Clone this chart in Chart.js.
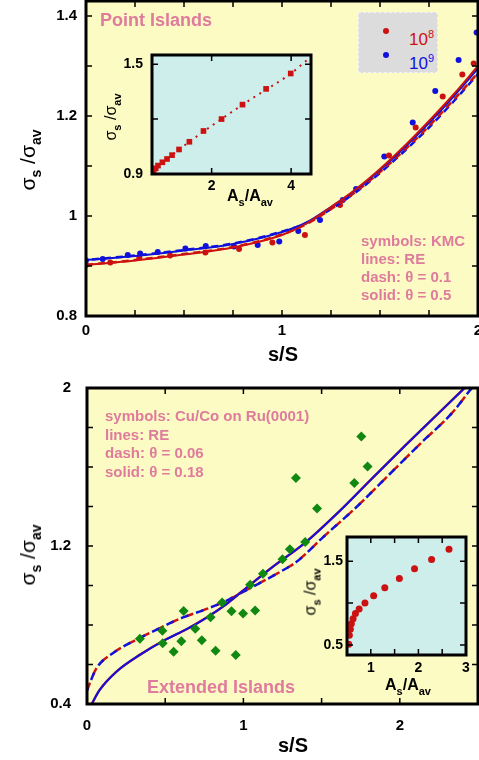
<!DOCTYPE html>
<html lang="en">
<head>
<meta charset="UTF-8">
<title>Island capture zones: sigma_s / sigma_av vs s/S</title>
<script src="https://cdn.jsdelivr.net/npm/chart.js"></script>
<style>
  body { margin: 0; background: #fff; font-family: 'Liberation Sans', Arial, sans-serif; }
  #page { position: relative; width: 479px; height: 760px; overflow: hidden; }
  canvas { position: absolute; }
  .txt { position: absolute; white-space: nowrap; }
  .pink { color: #df7b9d; font-weight: bold; font-size: 15px; line-height: 18px; }
  .big { color: #df7b9d; font-weight: bold; font-size: 18px; line-height: 20px; }
  .xt { position: absolute; transform: translateX(-50%); font-weight: bold; font-size: 20px; white-space: nowrap; }
  .yt { position: absolute; transform: translate(-50%, -50%) rotate(-90deg); font-size: 21px; white-space: nowrap; }
  .yt sub { font-size: 14px; font-weight: bold; vertical-align: -6px; }
  .yt.small { font-size: 16px; }
  .yt.small sub { font-size: 11px; vertical-align: -5px; }
  .at { position: absolute; transform: translateX(-50%); font-weight: bold; font-size: 16px; white-space: nowrap; }
  .at sub { font-size: 11px; vertical-align: -5px; }
  #legend { position: absolute; left: 358px; top: 12px; width: 80px; height: 61px; background: #dcdcdc; border: 1px dashed #f4f4f4; box-sizing: border-box; }
  .ldot { position: absolute; width: 6px; height: 6px; border-radius: 50%; }
  .ltxt { position: absolute; font-size: 17px; line-height: 18px; }
  .ltxt sup { font-size: 11px; vertical-align: 7px; }
</style>
</head>
<body>
<div id="page">
  <canvas id="topChart" width="479" height="380" style="left:0;top:0"></canvas>
  <canvas id="botChart" width="479" height="380" style="left:0;top:380px"></canvas>
  <canvas id="topInset" width="215" height="160" style="left:100px;top:50px"></canvas>
  <canvas id="botInset" width="185" height="150" style="left:290px;top:530px"></canvas>

  <div class="txt big" style="left:100px;top:10px">Point Islands</div>
  <div id="legend">
    <div class="ldot" style="left:24px;top:15px;background:#cc1111"></div>
    <div class="ltxt" style="left:50px;top:12px;color:#cc1111">10<sup>8</sup></div>
    <div class="ldot" style="left:24px;top:39px;background:#1111dd"></div>
    <div class="ltxt" style="left:50px;top:36px;color:#1111dd">10<sup>9</sup></div>
  </div>
  <div class="txt pink" style="left:361px;top:232px">symbols: KMC<br>lines: RE<br>dash: θ = 0.1<br>solid: θ = 0.5</div>
  <div class="xt" style="left:283px;top:343px">s/S</div>
  <div class="yt" style="left:30px;top:160px">σ<sub>s</sub> /σ<sub>av</sub></div>
  <div class="yt small" style="left:112px;top:117px">σ<sub>s</sub> /σ<sub>av</sub></div>
  <div class="at" style="left:250px;top:187px">A<sub>s</sub>/A<sub>av</sub></div>

  <div class="txt pink" style="left:105px;top:407px;line-height:18.5px">symbols: Cu/Co on Ru(0001)<br>lines: RE<br>dash: θ = 0.06<br>solid: θ = 0.18</div>
  <div class="txt big" style="left:147px;top:677px">Extended Islands</div>
  <div class="xt" style="left:293px;top:734px">s/S</div>
  <div class="yt" style="left:30px;top:555px">σ<sub>s</sub> /σ<sub>av</sub></div>
  <div class="yt small" style="left:312px;top:592px">σ<sub>s</sub> /σ<sub>av</sub></div>
  <div class="at" style="left:408px;top:676px">A<sub>s</sub>/A<sub>av</sub></div>
</div>

<script>
// ---- Point islands (top panel) ----
const topCurveX = [0, 0.25, 0.5, 0.75, 1, 1.125, 1.25, 1.375, 1.5, 1.625, 1.75, 1.875, 2];
const topRedSolid = [0.902, 0.911, 0.923, 0.937, 0.962, 0.985, 1.018, 1.053, 1.094, 1.140, 1.190, 1.243, 1.300];
const topRedDash = [0.902, 0.912, 0.924, 0.938, 0.963, 0.984, 1.014, 1.048, 1.088, 1.132, 1.180, 1.232, 1.286];
const topBlueSolid = [0.912, 0.920, 0.931, 0.944, 0.968, 0.987, 1.018, 1.052, 1.092, 1.137, 1.186, 1.239, 1.295];
const topBlueDash = [0.912, 0.921, 0.932, 0.945, 0.969, 0.986, 1.014, 1.047, 1.086, 1.130, 1.177, 1.229, 1.284];

// KMC symbols, 10^8 (red) and 10^9 (blue)
const kmc8X = [0.0, 0.124, 0.272, 0.429, 0.609, 0.781, 0.951, 1.117, 1.296, 1.546, 1.682, 1.82, 1.92, 1.978];
const kmc8Y = [0.902, 0.907, 0.917, 0.921, 0.927, 0.934, 0.947, 0.962, 1.022, 1.121, 1.177, 1.239, 1.283, 1.305];
const kmc9X = [0.0, 0.085, 0.213, 0.276, 0.366, 0.507, 0.611, 0.755, 0.876, 0.986, 1.083, 1.194, 1.31, 1.378, 1.522, 1.667, 1.782, 1.901, 1.993];
const kmc9Y = [0.911, 0.914, 0.922, 0.925, 0.928, 0.935, 0.940, 0.939, 0.942, 0.949, 0.970, 0.992, 1.032, 1.054, 1.119, 1.187, 1.25, 1.312, 1.367];

// inset: sigma_s/sigma_av vs A_s/A_av
const insetTopX = [0.52, 0.543, 0.593, 0.651, 0.762, 0.878, 1.004, 1.18, 1.44, 1.795, 2.25, 2.777, 3.37, 3.99];
const insetTopY = [0.912, 0.922, 0.931, 0.946, 0.964, 0.982, 1.003, 1.034, 1.076, 1.135, 1.20, 1.279, 1.365, 1.449];
const insetFitX = [0.5, 1.0, 2.0, 3.0, 4.0, 4.39];
const insetFitY = [0.91, 1.003, 1.163, 1.31, 1.45, 1.52];

// ---- Extended islands (bottom panel) ----
const botSolidX = [0.03, 0.08, 0.19, 0.34, 0.5, 0.64, 0.76, 0.89, 0.98, 1.18, 1.4, 1.61, 1.82, 2.04, 2.25, 2.44];
const botSolidY = [0.40, 0.47, 0.565, 0.65, 0.725, 0.78, 0.835, 0.905, 0.963, 1.09, 1.22, 1.373, 1.54, 1.713, 1.874, 2.02];
const botDashX = [0, 0.06, 0.17, 0.34, 0.47, 0.61, 0.76, 0.89, 0.98, 1.27, 1.34, 1.51, 1.72, 1.93, 2.14, 2.33, 2.46];
const botDashY = [0.47, 0.58, 0.66, 0.735, 0.786, 0.837, 0.88, 0.922, 0.96, 1.085, 1.12, 1.245, 1.395, 1.56, 1.725, 1.87, 2.0];

// Cu/Co on Ru(0001)
const cuCoX = [0.338, 0.482, 0.484, 0.554, 0.603, 0.618, 0.692, 0.734, 0.790, 0.822, 0.864, 0.924, 0.951, 0.998, 1.075, 1.043, 1.125, 1.250, 1.297, 1.395, 1.471, 1.336, 1.709, 1.794, 1.754];
const cuCoY = [0.730, 0.771, 0.708, 0.664, 0.718, 0.871, 0.781, 0.723, 0.839, 0.670, 0.914, 0.869, 0.648, 0.858, 0.873, 1.004, 1.060, 1.133, 1.184, 1.220, 1.390, 1.544, 1.519, 1.603, 1.754];

const insetBotX = [0.536, 0.549, 0.570, 0.591, 0.628, 0.677, 0.755, 0.877, 1.06, 1.294, 1.60, 1.919, 2.277, 2.643];
const insetBotY = [0.508, 0.617, 0.689, 0.753, 0.813, 0.877, 0.930, 1.002, 1.087, 1.183, 1.295, 1.412, 1.522, 1.645];

// tick labels
const topXTicks = [0, 1, 2];
const topYTicks = [0.8, 1, 1.2, 1.4];
const botXTicks = [0, 1, 2];
const botYTicks = [0.4, 1.2, 2];
const insetTopXTicks = [2, 4];
const insetTopYTicks = [0.9, 1.5];
const insetBotXTicks = [1, 2, 3];
const insetBotYTicks = [0.5, 1.5];

const RED = '#cc1111', BLUE = '#1111dd', GREEN = '#118811';

Chart.defaults.font.family = "'Liberation Sans', Arial, sans-serif";
Chart.defaults.color = '#000';

// background, frame and inward tick marks
const framePlugin = {
    id: 'frame',
    beforeDraw(chart, args, o) {
        const { ctx, chartArea: a } = chart;
        ctx.save();
        ctx.fillStyle = o.bg;
        ctx.fillRect(a.left, a.top, a.right - a.left, a.bottom - a.top);
        ctx.restore();
    },
    afterDraw(chart, args, o) {
        const { ctx, chartArea: a, scales } = chart;
        ctx.save();
        ctx.strokeStyle = '#000';
        ctx.lineWidth = 1.5;
        ctx.beginPath();
        o.xMarks.forEach(v => {
            const p = scales.x.getPixelForValue(v);
            ctx.moveTo(p, a.bottom); ctx.lineTo(p, a.bottom - o.len);
            ctx.moveTo(p, a.top); ctx.lineTo(p, a.top + o.len);
        });
        o.yMarks.forEach(v => {
            const p = scales.y.getPixelForValue(v);
            ctx.moveTo(a.left, p); ctx.lineTo(a.left + o.len, p);
            ctx.moveTo(a.right, p); ctx.lineTo(a.right - o.len, p);
        });
        ctx.stroke();
        ctx.lineWidth = o.width;
        ctx.strokeRect(a.left, a.top, a.right - a.left, a.bottom - a.top);
        ctx.restore();
    }
};

function pts(xs, ys) {
    return xs.map((x, i) => ({ x: x, y: ys[i] }));
}

function line(xs, ys, color, width, dash, offset) {
    return {
        data: pts(xs, ys), showLine: true, borderColor: color, borderWidth: width,
        borderDash: dash || [], borderDashOffset: offset || 0,
        pointRadius: 0, cubicInterpolationMode: 'monotone', order: 1
    };
}

function dots(xs, ys, color, style, r, order) {
    return {
        data: pts(xs, ys), showLine: false, pointStyle: style, pointRadius: r,
        pointBackgroundColor: color, pointBorderColor: color, pointBorderWidth: 0, order: order
    };
}

function axis(min, max, tickVals, fit, pad, size) {
    return {
        type: 'linear', min: min, max: max,
        grid: { display: false, drawTicks: false },
        border: { display: false },
        afterBuildTicks: s => { s.ticks = tickVals.map(v => ({ value: v })); },
        afterFit: s => {
            fit(s);
            s.paddingLeft = 0; s.paddingRight = 0; s.paddingTop = 0; s.paddingBottom = 0;
        },
        ticks: {
            padding: pad, autoSkip: false, maxRotation: 0, color: '#000',
            font: { size: size, weight: 'bold' },
            callback: v => String(+v.toFixed(2))
        }
    };
}

function makeChart(id, datasets, x, y, padding, frame) {
    return new Chart(document.getElementById(id), {
        type: 'scatter',
        data: { datasets: datasets },
        options: {
            responsive: false, animation: false, events: [],
            layout: { autoPadding: false, padding: padding },
            scales: { x: x, y: y },
            plugins: { legend: { display: false }, tooltip: { enabled: false }, frame: frame }
        },
        plugins: [framePlugin]
    });
}

// top panel
makeChart('topChart', [
    line(topCurveX, topRedSolid, RED, 2),
    line(topCurveX, topBlueSolid, BLUE, 2),
    line(topCurveX, topRedDash, RED, 2.5, [7, 5]),
    line(topCurveX, topBlueDash, BLUE, 2.5, [7, 5], 6),
    dots(kmc8X, kmc8Y, RED, 'circle', 3, 2),
    dots(kmc9X, kmc9Y, BLUE, 'circle', 3, 2)
],
    axis(0, 2, topXTicks, s => { s.height = 64; }, 6, 15),
    axis(0.8, 1.43, topYTicks, s => { s.width = 86; }, 9, 15),
    { top: 1, right: 1, left: 0, bottom: 0 },
    { bg: '#fbfbc3', width: 3, len: 6, xMarks: [0.25, 0.5, 0.75, 1, 1.25, 1.5, 1.75], yMarks: [0.9, 1, 1.1, 1.2, 1.3, 1.4] }
);

// top inset
makeChart('topInset', [
    line(insetFitX, insetFitY, RED, 2, [2, 5]),
    dots(insetTopX, insetTopY, RED, 'rect', 4, 0)
],
    axis(0.5, 4.5, insetTopXTicks, s => { s.height = 36; }, 4, 14),
    axis(0.9, 1.55, insetTopYTicks, s => { s.width = 52; }, 9, 14),
    { top: 5, right: 4, left: 0, bottom: 0 },
    { bg: '#ceeeec', width: 3, len: 6, xMarks: [2, 4], yMarks: [1.2, 1.5] }
);

// bottom panel (blue drawn over red)
makeChart('botChart', [
    line(botSolidX, botSolidY, BLUE, 2),
    line(botSolidX, botSolidY, RED, 2.4),
    line(botDashX, botDashY, BLUE, 2.5, [8, 8], 5),
    line(botDashX, botDashY, RED, 2.5, [8, 8]),
    dots(cuCoX, cuCoY, GREEN, 'rectRot', 5, 0)
],
    axis(0, 2.5, botXTicks, s => { s.height = 56; }, 13, 15),
    axis(0.4, 2, botYTicks, s => { s.width = 87; }, 16, 15),
    { top: 8, right: 1, left: 0, bottom: 0 },
    { bg: '#fbfbc3', width: 3, len: 6, xMarks: [0.5, 1, 1.5, 2], yMarks: [0.6, 0.8, 1, 1.2, 1.4, 1.6, 1.8] }
);

// bottom inset
makeChart('botInset', [
    dots(insetBotX, insetBotY, RED, 'circle', 3.5, 0)
],
    axis(0.5, 3, insetBotXTicks, s => { s.height = 25; }, 5, 14),
    axis(0.38, 1.79, insetBotYTicks, s => { s.width = 57; }, 4, 14),
    { top: 7, right: 9, left: 0, bottom: 0 },
    { bg: '#ceeeec', width: 3, len: 6, xMarks: [1, 1.5, 2, 2.5], yMarks: [0.5, 1, 1.5] }
);
</script>
</body>
</html>
